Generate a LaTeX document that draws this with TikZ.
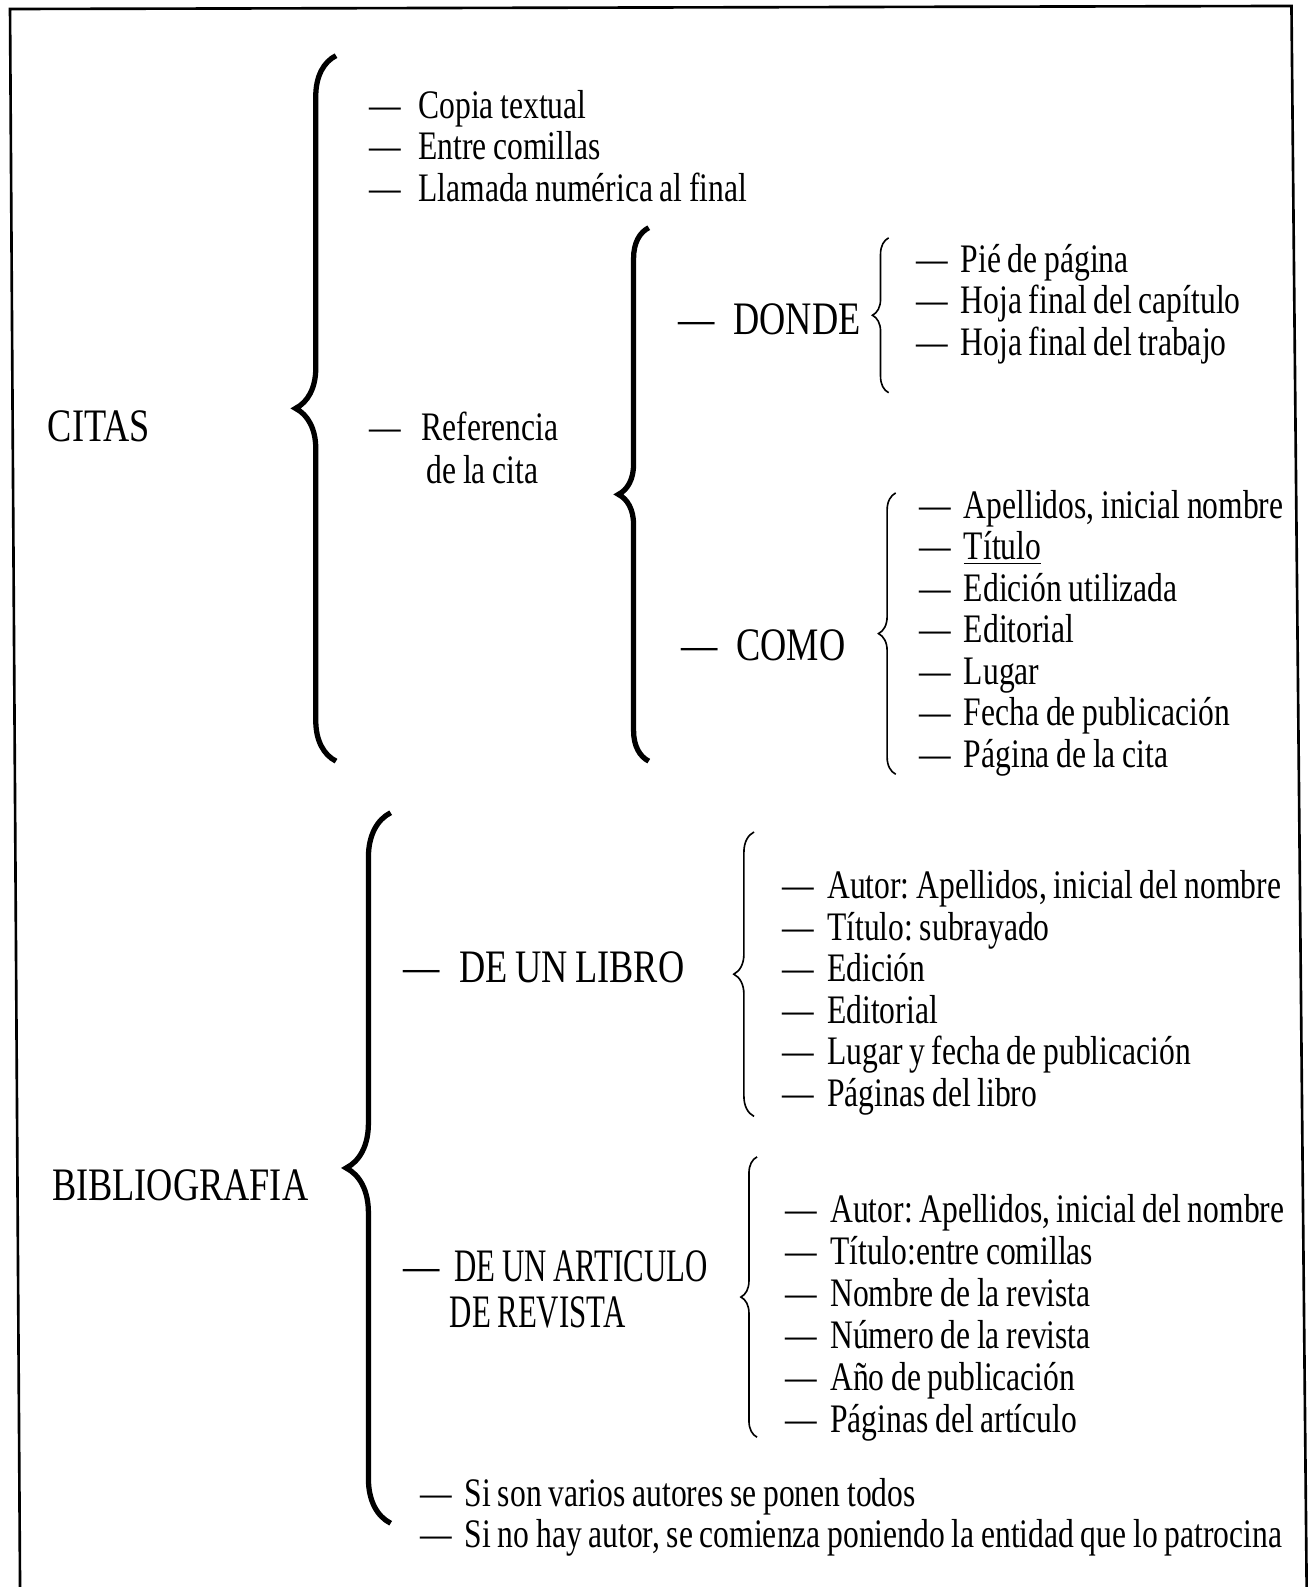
\documentclass[tikz,border=0pt]{standalone}
\usepackage{fontspec}
\setmainfont{Liberation Serif}[FakeStretch=0.78,WordSpace=0.85]
\usetikzlibrary{decorations.pathreplacing,positioning}
\frenchspacing

\tikzset{
  entry/.style={anchor=west,inner sep=0pt,text height=1.2em,text depth=0pt,
    font=\fontsize{20}{24}\selectfont},
  head/.style={entry,font=\fontsize{23}{27}\selectfont},
  second/.style={text height=0.8em},
  curly/.style={decorate,decoration={brace,amplitude=#1}},
  bigcurly/.style={curly=#1,line width=2.6pt},
  smallcurly/.style={curly=#1,line width=0.8pt},
}
\newcommand{\dsh}[1][0.32em]{—\hspace{#1}}

\begin{document}
\begin{tikzpicture}[x=0.5pt,y=-0.5pt]
  \useasboundingbox (0,0) rectangle (1294,1568);
  % frame, the scan is a bit tilted
  \draw[line width=1.3pt] (19.8,1568) -- (9.9,8.9) -- (1276,5.9) -- (1291,1568);

  % CITAS
  \node[head] (citas) at (47,424) {CITAS};
  \coordinate (citasT) at (332,55);
  \coordinate (citasB) at (332,752);
  \draw[bigcurly=20pt] (citasB) -- (citasT);
  \foreach \t [count=\i] in {Copia textual,Entre comillas,Llamada numérica al final}
    \node[entry] (cita\i) at (365,{64+41*\i}) {\dsh[0.42em]\t};
  \node[entry] (ref) at (365,423) {\dsh[0.5em]Referencia};
  \node[entry,second] (ref2) at (421,470) {de la cita};

  \coordinate (refT) at (641,225);
  \coordinate (refB) at (641,752);
  \draw[bigcurly=15pt] (refB) -- (refT);

  % donde
  \node[head] (donde) at (670,318) {\dsh[0.4em]DONDE};
  \coordinate (dondeT) at (878,235);
  \coordinate (dondeB) at (878,388);
  \draw[smallcurly=8pt] (dondeB) -- (dondeT);
  \foreach \t [count=\i] in {Pié de página,Hoja final del capítulo,Hoja final del trabajo}
    \node[entry] (donde\i) at (905,{216+41*\i}) {\dsh\t};

  % como
  \node[head] (como) at (673,641) {\dsh[0.4em]COMO};
  \coordinate (comoT) at (885,487);
  \coordinate (comoB) at (885,765);
  \draw[smallcurly=8.5pt] (comoB) -- (comoT);
  \foreach \t [count=\i] in {{Apellidos, inicial nombre},\underline{Título},Edición utilizada,
      Editorial,Lugar,Fecha de publicación,Página de la cita}
    \node[entry] (como\i) at (908,{459+41*\i}) {\dsh\t};

  % BIBLIOGRAFIA
  \node[head] (biblio) at (51,1174) {BIBLIOGRAFIA};
  \coordinate (biblioT) at (386,803);
  \coordinate (biblioB) at (386,1505);
  \draw[bigcurly=22pt] (biblioB) -- (biblioT);

  % libro
  \node[head] (libro) at (398,959) {\dsh[0.42em]DE UN LIBRO};
  \coordinate (libroT) at (745,822);
  \coordinate (libroB) at (745,1103);
  \draw[smallcurly=10pt] (libroB) -- (libroT);
  \foreach \t [count=\i] in {{Autor: Apellidos, inicial del nombre},Título: subrayado,Edición,
      Editorial,Lugar y fecha de publicación,Páginas del libro}
    \node[entry] (libro\i) at (773,{835+41*\i}) {\dsh\t};

  % articulo
  \node[head] (art) at (398,1254) {\dsh\scalebox{0.85}[1]{DE UN ARTICULO}};
  \node[head,second] (art2) at (444,1304) {\scalebox{0.85}[1]{DE REVISTA}};
  \coordinate (artT) at (748,1143);
  \coordinate (artB) at (748,1420);
  \draw[smallcurly=8pt] (artB) -- (artT);
  \foreach \t [count=\i] in {{Autor: Apellidos, inicial del nombre},Título:entre comillas,
      Nombre de la revista,Número de la revista,Año de publicación,Páginas del artículo}
    \node[entry] (art\i) at (776,{1154.6+41.4*\i}) {\dsh\t};

  \node[entry] (nota1) at (415,1476) {\dsh Si son varios autores se ponen todos};
  \node[entry] (nota2) at (415,1517) {\dsh Si no hay autor, se comienza poniendo la entidad que lo patrocina};
\end{tikzpicture}
\end{document}
